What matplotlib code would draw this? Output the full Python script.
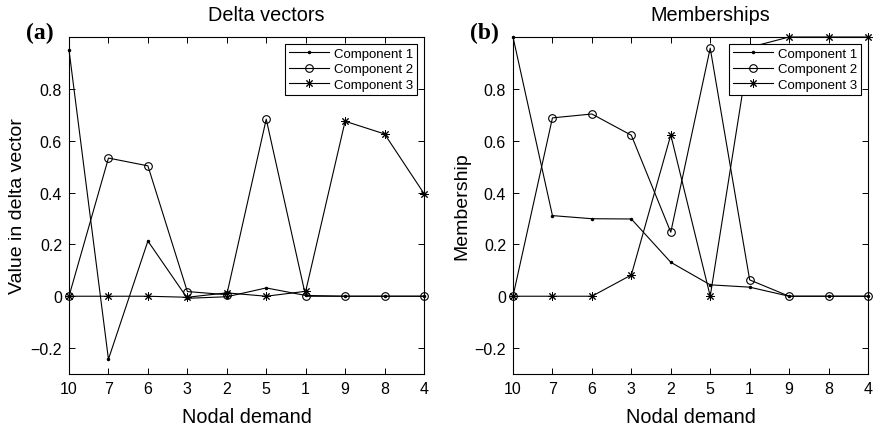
import matplotlib
matplotlib.use("Agg")
import matplotlib.pyplot as plt
import numpy as np

plt.rcParams['font.family'] = ['Liberation Sans', 'DejaVu Sans']

nodes = ["10", "7", "6", "3", "2", "5", "1", "9", "8", "4"]

delta_c1 = [0.95, -0.243, 0.213, -0.008, -0.002, 0.032, 0.003, 0.0, 0.0, 0.0]
delta_c2 = [0.0, 0.533, 0.503, 0.018, 0.006, 0.683, 0.0, 0.0, 0.0, 0.0]
delta_c3 = [0.0, 0.0, 0.0, -0.004, 0.013, 0.0, 0.019, 0.675, 0.626, 0.396]

memb_c1 = [1.0, 0.311, 0.299, 0.298, 0.131, 0.044, 0.035, 0.0, 0.0, 0.0]
memb_c2 = [0.0, 0.688, 0.703, 0.621, 0.247, 0.957, 0.063, 0.0, 0.0, 0.0]
memb_c3 = [0.0, 0.0, 0.0, 0.082, 0.622, 0.0, 0.96, 1.0, 1.0, 1.0]

labels = ["Component 1", "Component 2", "Component 3"]
yticks = [-0.2, 0, 0.2, 0.4, 0.6, 0.8]
ytick_labels = ["\u22120.2", "0", "0.2", "0.4", "0.6", "0.8"]

fig = plt.figure(figsize=(8.8, 4.31), dpi=100)
W, H = 880, 431
axes_px = [(69, 424), (513, 868)]
top_px, bot_px = 38, 375

panels = [
    ("Delta vectors", "Value in delta vector", "(a)", (delta_c1, delta_c2, delta_c3)),
    ("Memberships", "Membership", "(b)", (memb_c1, memb_c2, memb_c3)),
]

star = (8, 2, 0)
x = np.arange(1, len(nodes) + 1)

for (xl, xr), (title, ylabel, tag, series) in zip(axes_px, panels):
    ax = fig.add_axes([xl / W, 1 - bot_px / H, (xr - xl) / W, (bot_px - top_px) / H])
    c1, c2, c3 = series
    lw = 0.8
    ax.plot(x, c1, color='black', lw=lw, marker='.', ms=3, label=labels[0], clip_on=False)
    ax.plot(x, c2, color='black', lw=lw, marker='o', ms=5.5, mfc='none', mew=0.8,
            label=labels[1], clip_on=False)
    ax.plot(x, c3, color='black', lw=lw, marker=star, ms=6, mew=0.7,
            label=labels[2], clip_on=False)
    ax.set_xlim(1, len(nodes))
    ax.set_ylim(-0.3, 1.0)
    ax.set_xticks(x)
    ax.set_xticklabels(nodes)
    ax.set_yticks(yticks)
    ax.set_yticklabels(ytick_labels)
    ax.tick_params(direction='in', top=True, right=True, length=4, width=0.7,
                   labelsize=11.5, pad=5)
    for s in ax.spines.values():
        s.set_linewidth(0.8)
    ax.set_xlabel("Nodal demand", fontsize=14.3, labelpad=8)
    ax.set_ylabel(ylabel, fontsize=14, labelpad=3)
    ax.set_title(title, fontsize=14.3, x=0.556, pad=12)
    leg = ax.legend(loc='upper right', fontsize=9.5, frameon=True, fancybox=False,
                    edgecolor='black', framealpha=1, borderpad=0.3, labelspacing=0.25,
                    handlelength=3.0, handletextpad=0.4, borderaxespad=0.5)
    leg.get_frame().set_linewidth(0.8)
    leg.set_zorder(5)
    fig.text((xl - 43) / W, 1 - 33 / H, tag, fontsize=17, fontweight='bold',
             family='Liberation Serif', ha='left', va='center')

fig.savefig("out.png", dpi=100)
